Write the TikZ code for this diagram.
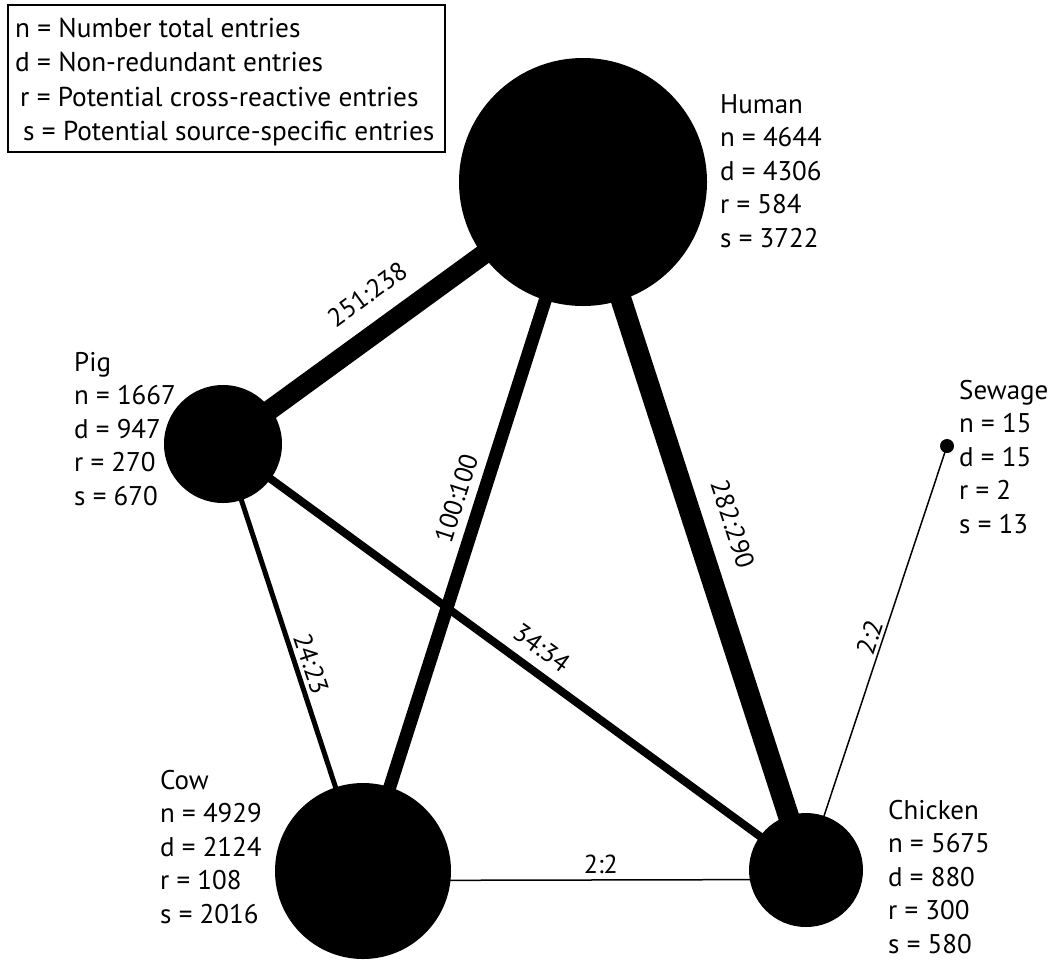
\documentclass[tikz,border=0pt]{standalone}
\usepackage{fontspec}
\setmainfont{PT Sans}
\usetikzlibrary{backgrounds}

\begin{document}
\begin{tikzpicture}[x=1pt,y=-1pt,
  hub/.style={circle, fill=black, draw=none, inner sep=0pt, minimum size=#1},
  info/.style={anchor=base west, inner sep=0pt, font=\fontsize{27}{33.5}\selectfont},
  link/.style={draw=black, line width=#1},
  wt/.style={font=\fontsize{26}{30}\selectfont, sloped, inner sep=0pt, anchor=south}]
\useasboundingbox (0,0) rectangle (1054,959);

% legend
\draw[line width=2pt] (8,5) rectangle (445,152);
\node[anchor=base west, inner sep=0pt, font=\fontsize{27.3}{34.5}\selectfont] (legend) at (15,37)
  {\begin{tabular}[t]{@{}l@{}}
   n = Number total entries\\
   d = Non-redundant entries\\
   \hspace{5pt}r = Potential cross-reactive entries\\
   \hspace{8pt}s = Potential source-specific entries
   \end{tabular}};

% sources
\node[hub=248pt] (human)   at (583,182) {};
\node[hub=118pt] (pig)     at (223,444) {};
\node[hub=14pt]  (sewage)  at (947,446) {};
\node[hub=176pt] (cow)     at (363,871) {};
\node[hub=114pt] (chicken) at (806,870) {};

% source statistics
\node[info] (humaninfo) at (720,113) {\begin{tabular}[t]{@{}l@{}}Human\\ n = 4644\\ d = 4306\\ r = 584\\ s = 3722\end{tabular}};
\node[info] (piginfo) at (74,371) {\begin{tabular}[t]{@{}l@{}}Pig\\ n = 1667\\ d = 947\\ r = 270\\ s = 670\end{tabular}};
\node[info] (sewageinfo) at (959,399) {\begin{tabular}[t]{@{}l@{}}Sewage\\ n = 15\\ d = 15\\ r = 2\\ s = 13\end{tabular}};
\node[info] (cowinfo) at (160,789) {\begin{tabular}[t]{@{}l@{}}Cow\\ n = 4929\\ d = 2124\\ r = 108\\ s = 2016\end{tabular}};
\node[info] (chickeninfo) at (888,819) {\begin{tabular}[t]{@{}l@{}}Chicken\\ n = 5675\\ d = 880\\ r = 300\\ s = 580\end{tabular}};

% shared entries
\begin{scope}[on background layer]
  \draw[link=20pt] (pig.center) -- node[wt, pos=0.46, yshift=17pt] {251:238} (human.center);
  \draw[link=13pt] (human.center) -- node[wt, pos=0.47, yshift=8.7pt] {100:100} (cow.center);
  \draw[link=21pt] (human.center) -- node[wt, pos=0.514, yshift=17pt] {282:290} (chicken.center);
  \draw[link=5pt] (pig.center) -- node[wt, pos=0.526, yshift=3.5pt] {24:23} (cow.center);
  \draw[link=8pt] (pig.center) -- node[wt, pos=0.523, yshift=10pt] {34:34} (chicken.center);
  \draw[link=1.5pt] (sewage.center) -- node[wt, pos=0.461, yshift=3pt] {2:2} (chicken.center);
  \draw[link=1.5pt] ([yshift=-9.5pt]cow.center) -- node[wt, pos=0.537, yshift=5pt] {2:2} ([yshift=-9.5pt]chicken.center);
\end{scope}
\end{tikzpicture}
\end{document}
